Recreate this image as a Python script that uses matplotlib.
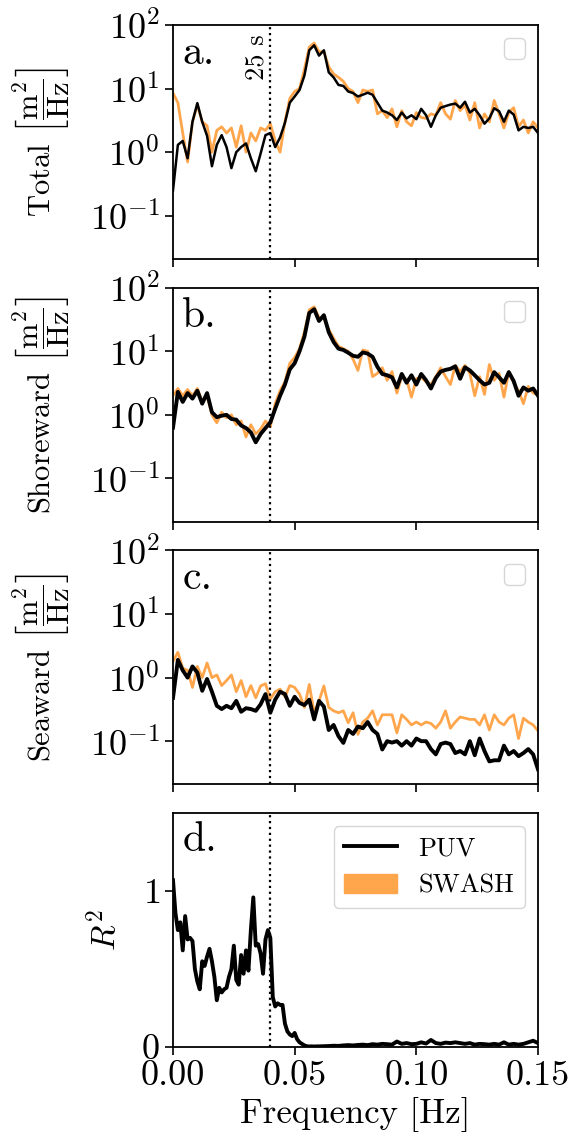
import numpy as np
import matplotlib
matplotlib.use('Agg')
import matplotlib.pyplot as plt
from matplotlib import rcParams
from matplotlib.lines import Line2D
from matplotlib.patches import Patch
from matplotlib.ticker import NullLocator, FormatStrFormatter
from matplotlib.transforms import blended_transform_factory

rcParams.update({'font.family': 'serif'})
rcParams.update({'font.serif': ['cmr10']})
rcParams.update({'mathtext.fontset': 'cm'})
rcParams.update({'axes.formatter.use_mathtext': True})
rcParams.update({'axes.linewidth': 1.3})
rcParams.update({'xtick.major.size': 6})
rcParams.update({'ytick.major.size': 6})
rcParams.update({'xtick.major.width': 1.2})
rcParams.update({'ytick.major.width': 1.2})
rcParams.update({'xtick.labelsize': 26})
rcParams.update({'ytick.labelsize': 26})

orange = '#ffa64d'

# spectra sampled every 0.002 Hz from 0 to 0.15 Hz
freq = np.arange(76) * 0.002

total_puv = [0.25, 1.3, 1.5, 0.8, 3.0, 5.9, 3.0, 1.8, 0.6, 1.3,
             1.85, 1.2, 0.56, 1.0, 1.2, 1.37, 0.8, 0.5, 0.95, 1.85,
             2.0, 1.2, 1.7, 2.9, 6.0, 7.5, 9.5, 16, 40, 48,
             33, 40, 18, 15, 11.4, 11, 9, 8.5, 7.5, 8,
             8.6, 8, 6, 4.5, 4.2, 3.8, 3.2, 4.2, 3.4, 3.8,
             3.3, 4.8, 3.8, 2.5, 3.8, 5.0, 5.3, 5.6, 5.8, 5.0,
             6.2, 4.2, 4.8, 3.8, 2.8, 3.4, 4.9, 4.4, 3.0, 4.5,
             3.9, 2.2, 2.5, 2.4, 2.5, 2.0]
total_swash = [8.5, 6, 2.0, 0.7, 3.0, 5.5, 3.0, 2.6, 1.0, 2.2,
               2.5, 2.0, 2.4, 1.2, 2.6, 1.0, 2.0, 1.5, 2.4, 2.2,
               2.8, 1.5, 1.0, 3.0, 7.0, 9, 10, 20, 45, 52,
               38, 38, 22, 17, 15, 13, 10, 9, 6, 9.5,
               9, 9.5, 4.0, 4.5, 3.5, 4.8, 2.5, 4.5, 3.0, 2.6,
               4.2, 3.5, 3.4, 4.0, 3.8, 6.0, 4.0, 3.3, 6.5, 4.5,
               5.5, 3.2, 6.0, 2.4, 4.0, 3.0, 6.5, 4.0, 2.4, 4.2,
               5.0, 2.5, 3.2, 2.0, 3.0, 2.4]

shore_puv = [0.63, 2.3, 1.6, 2.2, 1.8, 2.4, 1.5, 2.2, 1.1, 0.92,
             0.97, 1.0, 0.86, 0.84, 0.68, 0.62, 0.53, 0.37, 0.5, 0.62,
             0.76, 1.25, 2.0, 3.0, 5.2, 6.5, 10, 17, 40, 46,
             30, 37, 20, 14, 11, 10.5, 9.5, 8.5, 8.2, 9.6,
             9.2, 8.2, 5.7, 4.4, 4.2, 3.9, 2.7, 4.4, 3.2, 4.2,
             3.0, 4.4, 3.5, 2.6, 3.8, 4.8, 5.1, 5.3, 5.8, 3.7,
             5.6, 5.0, 4.2, 3.5, 3.0, 3.2, 4.7, 3.9, 3.2, 4.7,
             3.4, 2.0, 2.7, 2.4, 2.6, 2.0]
shore_swash = [2.0, 2.6, 2.0, 2.5, 2.0, 2.6, 1.6, 2.0, 1.0, 0.75,
               1.1, 0.9, 1.0, 0.7, 0.8, 0.45, 0.7, 0.5, 0.6, 0.8,
               0.65, 1.5, 2.4, 3.3, 6.5, 8, 11, 20, 45, 50,
               34, 33, 22, 16, 12, 11, 10, 7.5, 5.0, 10.5,
               10, 4.0, 4.5, 5.5, 3.5, 4.8, 2.2, 4.0, 3.6, 1.9,
               3.7, 3.9, 3.3, 3.0, 4.0, 5.5, 4.0, 3.0, 6.0, 4.8,
               6.0, 4.5, 2.0, 4.0, 2.1, 6.2, 3.5, 4.5, 1.9, 4.8,
               3.2, 2.4, 1.5, 2.8, 2.2, 2.1]

sea_puv = [0.48, 1.9, 1.3, 1.0, 1.5, 1.2, 0.62, 0.95, 0.6, 0.36,
           0.32, 0.36, 0.33, 0.43, 0.29, 0.33, 0.32, 0.3, 0.38, 0.55,
           0.28, 0.45, 0.6, 0.55, 0.36, 0.5, 0.4, 0.37, 0.45, 0.22,
           0.43, 0.35, 0.15, 0.18, 0.12, 0.094, 0.15, 0.13, 0.17, 0.16,
           0.2, 0.15, 0.13, 0.074, 0.1, 0.095, 0.1, 0.085, 0.1, 0.085,
           0.11, 0.1, 0.1, 0.075, 0.062, 0.09, 0.095, 0.09, 0.065, 0.07,
           0.062, 0.1, 0.06, 0.11, 0.07, 0.048, 0.05, 0.05, 0.085, 0.062,
           0.07, 0.058, 0.065, 0.075, 0.062, 0.036]
sea_swash = [1.8, 2.5, 1.4, 1.3, 0.7, 1.5, 1.0, 1.7, 1.0, 1.1,
             0.75, 0.9, 1.1, 0.6, 0.9, 0.5, 0.75, 0.48, 0.74, 0.8,
             0.46, 0.6, 0.66, 0.5, 0.75, 0.7, 0.55, 0.34, 0.78, 0.28,
             0.43, 0.74, 0.34, 0.3, 0.28, 0.3, 0.195, 0.28, 0.128, 0.2,
             0.23, 0.3, 0.18, 0.26, 0.26, 0.26, 0.135, 0.26, 0.22, 0.18,
             0.2, 0.18, 0.2, 0.19, 0.16, 0.2, 0.3, 0.16, 0.2, 0.24,
             0.23, 0.22, 0.22, 0.18, 0.26, 0.15, 0.26, 0.2, 0.18, 0.23,
             0.26, 0.11, 0.23, 0.2, 0.18, 0.145]

# R^2: every 0.001 Hz up to 0.059, then every 0.002 Hz
freq_r2 = np.concatenate([np.arange(60) * 0.001, 0.06 + np.arange(46) * 0.002])
r2 = [1.07, 0.86, 0.75, 0.8, 0.62, 0.84, 0.69, 0.7, 0.68, 0.5,
      0.42, 0.37, 0.55, 0.52, 0.58, 0.63, 0.55, 0.45, 0.3, 0.38,
      0.35, 0.37, 0.38, 0.45, 0.5, 0.65, 0.43, 0.4, 0.59, 0.47,
      0.62, 0.49, 0.75, 0.96, 0.65, 0.66, 0.6, 0.47, 0.69, 0.75,
      0.7, 0.32, 0.26, 0.28, 0.27, 0.27, 0.15, 0.1, 0.08, 0.07,
      0.09, 0.05, 0.03, 0.02, 0.01, 0.005, 0.003, 0.004, 0.003, 0.004,
      0.004, 0.005, 0.006, 0.008, 0.007, 0.01, 0.012, 0.01, 0.013, 0.015,
      0.012, 0.018, 0.015, 0.02, 0.018, 0.015, 0.035, 0.02, 0.025, 0.018,
      0.02, 0.03, 0.022, 0.045, 0.025, 0.02, 0.028, 0.025, 0.03, 0.025,
      0.02, 0.025, 0.015, 0.02, 0.018, 0.015, 0.02, 0.015, 0.03, 0.015,
      0.02, 0.015, 0.02, 0.03, 0.04, 0.025]

f_cut = 0.04

fig, axs = plt.subplots(4, 1, sharex=True, figsize=(5.74, 11.47), dpi=100)
fig.subplots_adjust(left=0.3014, right=0.9373, top=0.9782, bottom=0.0872, hspace=0.124)

spectra = [(total_puv, total_swash, 'Total', 'a.', 1.8),
           (shore_puv, shore_swash, 'Shoreward', 'b.', 2.8),
           (sea_puv, sea_swash, 'Seaward', 'c.', 2.8)]

for ax, (puv, swash, name, letter, lw) in zip(axs[:3], spectra):
    ax.plot(freq, swash, color=orange, lw=2.0)
    ax.plot(freq, puv, color='k', lw=lw)
    ax.axvline(f_cut, color='k', ls=':', lw=1.6)
    ax.set_yscale('log')
    ax.set_ylim(0.021, 100)
    ax.set_yticks([0.1, 1, 10, 100])
    ax.yaxis.set_minor_locator(NullLocator())
    ax.set_ylabel(name + r' $\left[\dfrac{\mathrm{m}^2}{\mathrm{Hz}}\right]$', fontsize=22)
    ax.yaxis.set_label_coords(-0.277, 0.5)
    ax.text(0.025, 0.96, letter, transform=ax.transAxes, fontsize=30, va='top')
    ax.legend(loc='upper right', fontsize=19)

trans = blended_transform_factory(axs[0].transData, axs[0].transAxes)
axs[0].text(0.0393, 0.96, '25 s', transform=trans, rotation=90, ha='right', va='top', fontsize=19)

ax = axs[3]
ax.plot(freq_r2, r2, color='k', lw=2.8)
ax.axvline(f_cut, color='k', ls=':', lw=1.6)
ax.set_ylim(0, 1.5)
ax.set_yticks([0, 1])
ax.set_ylabel('$R^2$', fontsize=24)
ax.yaxis.set_label_coords(-0.14, 0.5)
ax.text(0.025, 0.965, 'd.', transform=ax.transAxes, fontsize=30, va='top')
handles = [Line2D([], [], color='k', lw=2.8), Patch(color=orange)]
ax.legend(handles, ['PUV', 'SWASH'], loc='upper right', fontsize=19)

ax.set_xlim(0, 0.15)
ax.set_xticks([0, 0.05, 0.10, 0.15])
ax.xaxis.set_major_formatter(FormatStrFormatter('%.2f'))
ax.set_xlabel('Frequency [Hz]', fontsize=25)

fig.savefig('out.png', dpi=100)
